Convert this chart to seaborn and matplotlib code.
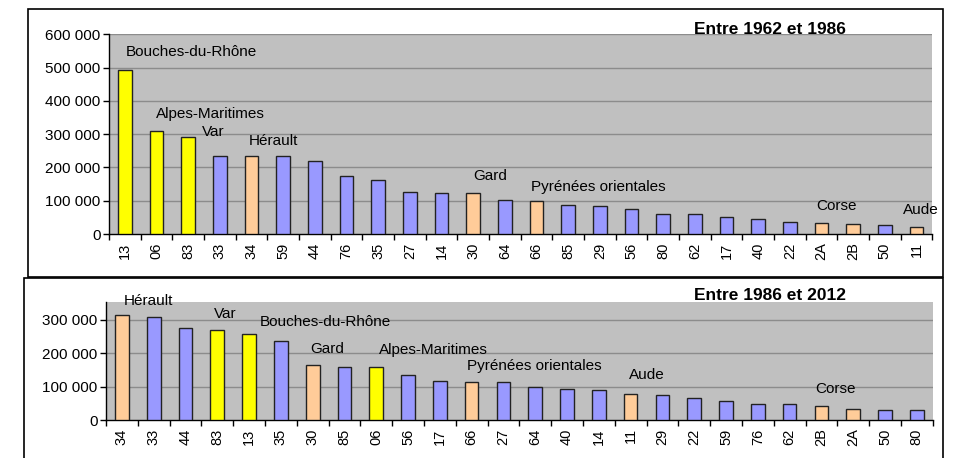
import matplotlib
matplotlib.use("Agg")
import matplotlib.pyplot as plt
from matplotlib.patches import Rectangle
from matplotlib.ticker import FuncFormatter, FixedLocator, NullFormatter
import seaborn as sns
import pandas as pd

# --- Data: population gain by département -----------------------------------
depts_1962_1986 = ["13", "06", "83", "33", "34", "59", "44", "76", "35", "27",
                   "14", "30", "64", "66", "85", "29", "56", "80", "62", "17",
                   "40", "22", "2A", "2B", "50", "11"]
gain_1962_1986 = [492000, 309000, 291000, 233000, 233000, 233000, 219000,
                  173000, 161000, 126000, 122000, 122000, 101000, 98000,
                  86000, 83000, 76000, 59000, 59000, 51000, 44000, 37000,
                  32000, 29000, 26000, 22000]

depts_1986_2012 = ["34", "33", "44", "83", "13", "35", "30", "85", "06", "56",
                   "17", "66", "27", "64", "40", "14", "11", "29", "22", "59",
                   "76", "62", "2B", "2A", "50", "80"]
gain_1986_2012 = [314000, 307000, 275000, 268000, 257000, 236000, 164000,
                  160000, 160000, 135000, 117000, 113000, 113000, 98000,
                  92000, 89000, 77000, 74000, 67000, 56000, 48000, 48000,
                  41000, 34000, 30000, 30000]

# Mediterranean groups
provence = ["13", "06", "83"]
languedoc = ["34", "30", "66", "11", "2A", "2B"]

titles = ["Entre 1962 et 1986", "Entre 1986 et 2012"]

# Region names written over the bars: (text, x in bar units, y in inhabitants)
notes_1962_1986 = [("Bouches-du-Rhône", 0.02, 548000),
                   ("Alpes-Maritimes", 0.99, 360000),
                   ("Var", 2.45, 306000),
                   ("Hérault", 3.90, 279000),
                   ("Gard", 10.99, 175000),
                   ("Pyrénées orientales", 12.83, 142000),
                   ("Corse", 21.82, 84000),
                   ("Aude", 24.58, 72000)]
notes_1986_2012 = [("Hérault", 0.07, 356000),
                   ("Var", 2.91, 318000),
                   ("Bouches-du-Rhône", 4.32, 294000),
                   ("Gard", 5.92, 213000),
                   ("Alpes-Maritimes", 8.08, 209000),
                   ("Pyrénées orientales", 10.84, 162000),
                   ("Aude", 15.96, 135000),
                   ("Corse", 21.80, 94000)]

YELLOW, PEACH, BLUE = "#FFFF00", "#FFCC99", "#9999FF"


def colour_for(code):
    if code in provence:
        return YELLOW
    if code in languedoc:
        return PEACH
    return BLUE


sns.set_theme(style="white")
plt.rcParams["font.family"] = ["Liberation Sans", "DejaVu Sans"]

W, H = 954, 458
fig = plt.figure(figsize=(W / 100, H / 100), dpi=100)


def px_axes(left, top, right, bottom):
    return fig.add_axes([left / W, 1 - bottom / H, (right - left) / W,
                         (bottom - top) / H])


def space_thousands(v, _pos):
    return f"{int(v):,}".replace(",", " ")


def draw_panel(ax, depts, gains, ymax, yticks, title, notes, title_y):
    df = pd.DataFrame({"dept": depts, "gain": gains})
    palette = {d: colour_for(d) for d in depts}
    sns.barplot(data=df, x="dept", y="gain", hue="dept", order=depts,
                hue_order=depts, palette=palette, legend=False, width=0.43,
                edgecolor="#222222", linewidth=1.0, saturation=1, ax=ax,
                zorder=3)
    ax.set_facecolor("#C0C0C0")
    ax.set_xlim(-0.5, len(depts) - 0.5)
    ax.set_ylim(0, ymax)
    ax.set_xlabel("")
    ax.set_ylabel("")

    ax.yaxis.set_major_locator(FixedLocator(yticks))
    ax.yaxis.set_major_formatter(FuncFormatter(space_thousands))
    for t in yticks[1:]:
        ax.axhline(t, color="#8C8C8C", linewidth=1.0, zorder=1)

    ax.xaxis.set_minor_locator(FixedLocator([i - 0.5 for i in range(len(depts) + 1)]))
    ax.xaxis.set_minor_formatter(NullFormatter())
    ax.tick_params(axis="x", which="major", length=0, pad=6, labelsize=10.5,
                   labelrotation=90, colors="black")
    ax.tick_params(axis="x", which="minor", length=4, width=1.0,
                   direction="out", color="black", bottom=True)
    ax.tick_params(axis="y", which="major", length=4, width=1.0,
                   direction="out", left=True, labelsize=11, pad=2,
                   colors="black")

    for side in ("top", "right"):
        ax.spines[side].set_visible(False)
    for side in ("left", "bottom"):
        ax.spines[side].set_visible(True)
        ax.spines[side].set_color("black")
        ax.spines[side].set_linewidth(1.0)

    for text, x, y in notes:
        ax.text(x, y, text, ha="left", va="center", fontsize=11,
                color="black", clip_on=False, zorder=5)

    fig.text(770 / W, 1 - title_y / H, title, ha="center", va="center",
             fontsize=12.5, fontweight="bold", color="black")


ax_top = px_axes(109, 34.3, 932.3, 234)
draw_panel(ax_top, depts_1962_1986, gain_1962_1986, 600000,
           [0, 100000, 200000, 300000, 400000, 500000, 600000],
           titles[0], notes_1962_1986, 29)

ax_bot = px_axes(106, 302.3, 932.7, 420)
draw_panel(ax_bot, depts_1986_2012, gain_1986_2012, 352000,
           [0, 100000, 200000, 300000],
           titles[1], notes_1986_2012, 295)

# Frames around both panels
fig.add_artist(Rectangle((28 / W, 1 - 277 / H), (942.7 - 28) / W, (277 - 9) / H,
                         transform=fig.transFigure, fill=False,
                         edgecolor="black", linewidth=1.2))
fig.add_artist(Rectangle((24 / W, -0.05), (942.7 - 24) / W,
                         (1 - 277.6 / H) + 0.05,
                         transform=fig.transFigure, fill=False,
                         edgecolor="black", linewidth=1.2))

fig.savefig("out.png", dpi=100, facecolor="white")
